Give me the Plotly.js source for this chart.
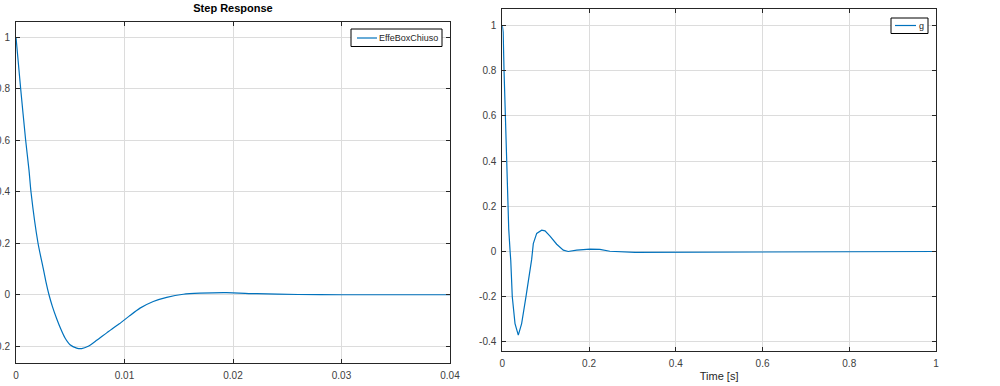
<!DOCTYPE html>
<html>
<head>
<meta charset="utf-8">
<script src="https://cdn.plot.ly/plotly-3.0.1.min.js"></script>
<style>html,body{margin:0;padding:0;background:#fff;}#chart{width:1000px;height:386px;}</style>
</head>
<body>
<div id="chart"></div>
<script>
// Left subplot: EffeBoxChiuso step response
const tLeft = [0, 0.00043, 0.00089, 0.0012, 0.00138, 0.00203, 0.00252, 0.00276, 0.00304, 0.00335, 0.00375, 0.00412, 0.00452, 0.00498, 0.00559, 0.00605, 0.00666, 0.00744, 0.00836, 0.00952, 0.01043, 0.01143, 0.01265, 0.01389, 0.01542, 0.01696, 0.0194, 0.0222, 0.026, 0.03, 0.035, 0.04];
const yLeft = [1.0, 0.8, 0.6, 0.483, 0.4, 0.2, 0.1, 0.05, 0.0, -0.045, -0.093, -0.132, -0.168, -0.194, -0.207, -0.209, -0.2, -0.177, -0.148, -0.113, -0.083, -0.052, -0.026, -0.01, 0.002, 0.006, 0.008, 0.004, 0.001, 0.0, 0.0, 0.0];

// Right subplot: g
const tRight = [0, 0.002, 0.004, 0.007, 0.0093, 0.0125, 0.0148, 0.018, 0.0195, 0.023, 0.0293, 0.0369, 0.0446, 0.0546, 0.0677, 0.0715, 0.0793, 0.0908, 0.0985, 0.11, 0.1254, 0.1407, 0.152, 0.1715, 0.202, 0.225, 0.248, 0.306, 0.617, 0.621, 1.0];
const yRight = [1.0, 0.97, 0.8, 0.6, 0.4, 0.22, 0.10, 0.0, -0.04, -0.2, -0.319, -0.37, -0.319, -0.2, -0.035, 0.035, 0.08, 0.094, 0.091, 0.068, 0.032, 0.006, 0.0, 0.006, 0.01, 0.009, 0.001, -0.004, -0.003, 0.0, 0.0];

const seriesNames = ['EffeBoxChiuso', 'g'];

const xTicksLeft = [0, 0.01, 0.02, 0.03, 0.04];
const xTickTextLeft = ['0', '0.01', '0.02', '0.03', '0.04'];
const yTicksLeft = [-0.2, 0, 0.2, 0.4, 0.6, 0.8, 1];
const yTickTextLeft = ['-0.2', '0', '0.2', '0.4', '0.6', '0.8', '1'];
const xTicksRight = [0, 0.2, 0.4, 0.6, 0.8, 1];
const xTickTextRight = ['0', '0.2', '0.4', '0.6', '0.8', '1'];
const yTicksRight = [-0.4, -0.2, 0, 0.2, 0.4, 0.6, 0.8, 1];
const yTickTextRight = ['-0.4', '-0.2', '0', '0.2', '0.4', '0.6', '0.8', '1'];

const lineBlue = '#0072BD';
const axisCol = '#262626';
const gridCol = '#dcdcdc';
const fontFam = 'Liberation Sans, Arial, sans-serif';
const tickFont = {family: fontFam, size: 10, color: '#404040'};

function axisBase(extra) {
  return Object.assign({
    showline: true, linecolor: axisCol, linewidth: 1, mirror: 'ticks',
    ticks: 'inside', ticklen: 4, tickwidth: 1, tickcolor: axisCol,
    showgrid: true, gridcolor: gridCol, gridwidth: 1,
    zeroline: false, tickfont: tickFont, tickmode: 'array',
    ticklabelstandoff: 3
  }, extra);
}

const data = [
  {x: tLeft, y: yLeft, type: 'scatter', mode: 'lines', name: seriesNames[0],
   line: {color: lineBlue, width: 1.2, shape: 'spline', smoothing: 0.6}, xaxis: 'x', yaxis: 'y', showlegend: false},
  {x: tRight, y: yRight, type: 'scatter', mode: 'lines', name: seriesNames[1],
   line: {color: lineBlue, width: 1.2}, xaxis: 'x2', yaxis: 'y2', showlegend: false}
];

// legend boxes (MATLAB-style compact legends), in pixel -> paper coordinates
const W = 1000, H = 386;
const px = v => v / W, py = v => 1 - v / H;
function legendBox(x0, x1, y0, y1, lx0, lx1, ly) {
  return [
    {type: 'rect', xref: 'paper', yref: 'paper', x0: px(x0), x1: px(x1), y0: py(y1), y1: py(y0),
     line: {color: '#000', width: 1}, fillcolor: '#fff', layer: 'above'},
    {type: 'line', xref: 'paper', yref: 'paper', x0: px(lx0), x1: px(lx1), y0: py(ly), y1: py(ly),
     line: {color: lineBlue, width: 1.2}, layer: 'above'}
  ];
}
const shapes = [].concat(
  legendBox(351, 442, 29, 46.5, 357, 377, 38),
  legendBox(891, 928, 18, 33.5, 895, 916, 25.5)
);
const annotations = [
  {xref: 'paper', yref: 'paper', x: px(377), y: py(38), xanchor: 'left', yanchor: 'middle', showarrow: false,
   text: seriesNames[0], font: {family: fontFam, size: 9, color: '#262626'}},
  {xref: 'paper', yref: 'paper', x: px(917), y: py(25.5), xanchor: 'left', yanchor: 'middle', showarrow: false,
   text: seriesNames[1], font: {family: fontFam, size: 9, color: '#262626'}}
];

const layout = {
  width: W, height: H,
  margin: {l: 0, r: 0, t: 0, b: 0},
  paper_bgcolor: '#fff', plot_bgcolor: '#fff',
  showlegend: false,
  xaxis: axisBase({domain: [0.016, 0.450], range: [0, 0.04], tickvals: xTicksLeft, ticktext: xTickTextLeft, anchor: 'y'}),
  yaxis: axisBase({domain: [0.0596, 0.943], range: [-0.265, 1.059], tickvals: yTicksLeft, ticktext: yTickTextLeft, anchor: 'x'}),
  xaxis2: axisBase({domain: [0.5023, 0.936], range: [0, 1], tickvals: xTicksRight, ticktext: xTickTextRight, anchor: 'y2',
    title: {text: 'Time [s]', font: {family: fontFam, size: 11, color: '#262626'}, standoff: 4}}),
  yaxis2: axisBase({domain: [0.0907, 0.976], range: [-0.44, 1.071], tickvals: yTicksRight, ticktext: yTickTextRight, anchor: 'x2'}),
  title: {text: '<b>Step Response</b>', x: 0.233, xanchor: 'center', xref: 'paper', y: 0.99, yanchor: 'top', yref: 'paper',
    font: {family: fontFam, size: 11, color: '#000'}},
  shapes: shapes,
  annotations: annotations
};

Plotly.newPlot('chart', data, layout, {displayModeBar: false, staticPlot: true});
</script>
</body>
</html>
